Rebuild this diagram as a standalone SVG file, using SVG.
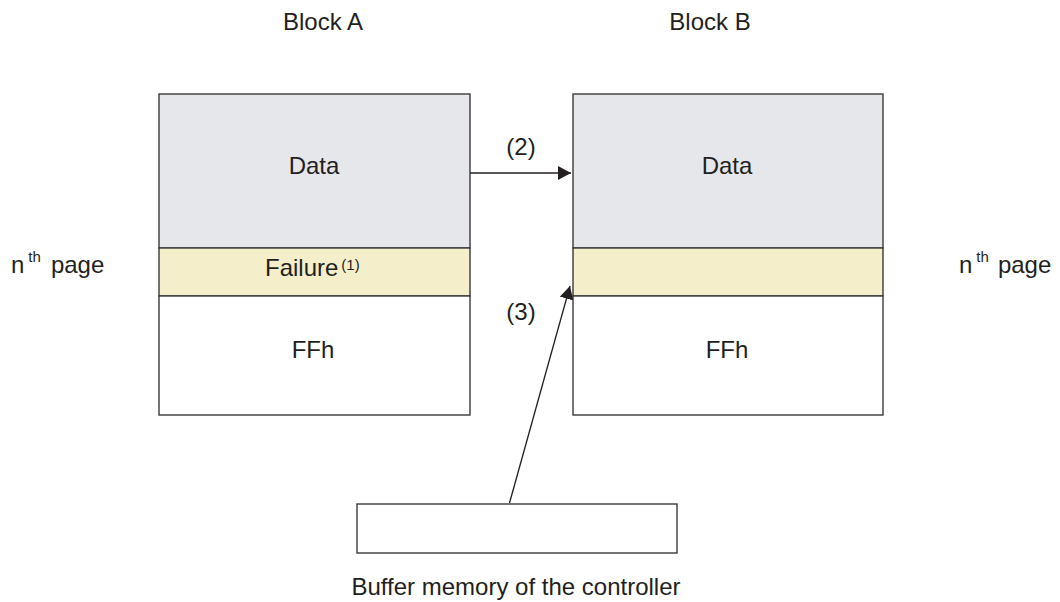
<svg xmlns="http://www.w3.org/2000/svg" width="1060" height="602" viewBox="0 0 1060 602">
<style>
.t{font-family:"Liberation Sans",Arial,sans-serif;font-size:24px;fill:#231f20}
.c{text-anchor:middle}
.sup{font-size:15px}
.box{stroke:#3a3a3a;stroke-width:1.4}
.data{fill:#e6e7eb}
.fail{fill:#f5eecb}
.ffh{fill:#ffffff}
.ln{stroke:#231f20;stroke-width:1.3;fill:none}
</style>
<defs>
<marker id="ah" markerUnits="userSpaceOnUse" markerWidth="14" markerHeight="14" refX="13" refY="7" orient="auto">
<path d="M0,0 L13,7 L0,14 z" fill="#231f20"/>
</marker>
</defs>
<rect width="1060" height="602" fill="#ffffff"/>
<text class="t c" x="323" y="30">Block A</text>
<text class="t c" x="710" y="30">Block B</text>
<text class="t" x="11" y="273">n<tspan class="sup" dx="4" dy="-11">th</tspan><tspan dx="10" dy="11">page</tspan></text>
<text class="t" x="959" y="273">n<tspan class="sup" dx="4" dy="-11">th</tspan><tspan dx="9" dy="11">page</tspan></text>
<g id="blockA">
<rect class="box data" x="159" y="94" width="311" height="154"/>
<rect class="box fail" x="159" y="248" width="311" height="48"/>
<rect class="box ffh" x="159" y="296" width="311" height="119"/>
<text class="t c" x="314" y="174">Data</text>
<text class="t" x="265" y="276">Failure<tspan class="sup" dx="3" dy="-6">(1)</tspan></text>
<text class="t c" x="313" y="358">FFh</text>
</g>
<g id="blockB">
<rect class="box data" x="573" y="94" width="310" height="154"/>
<rect class="box fail" x="573" y="248" width="310" height="48"/>
<rect class="box ffh" x="573" y="296" width="310" height="119"/>
<text class="t c" x="727" y="174">Data</text>
<text class="t c" x="727" y="358">FFh</text>
</g>
<g id="buffer">
<rect class="box ffh" x="357" y="504" width="320" height="49"/>
<text class="t c" x="516" y="595">Buffer memory of the controller</text>
</g>
<g id="connectors">
<line class="ln" x1="470" y1="173" x2="571" y2="173" marker-end="url(#ah)"/>
<text class="t c" x="521" y="155">(2)</text>
<line class="ln" x1="509.5" y1="503" x2="570" y2="286" marker-end="url(#ah)"/>
<text class="t c" x="521" y="320">(3)</text>
</g>
</svg>
